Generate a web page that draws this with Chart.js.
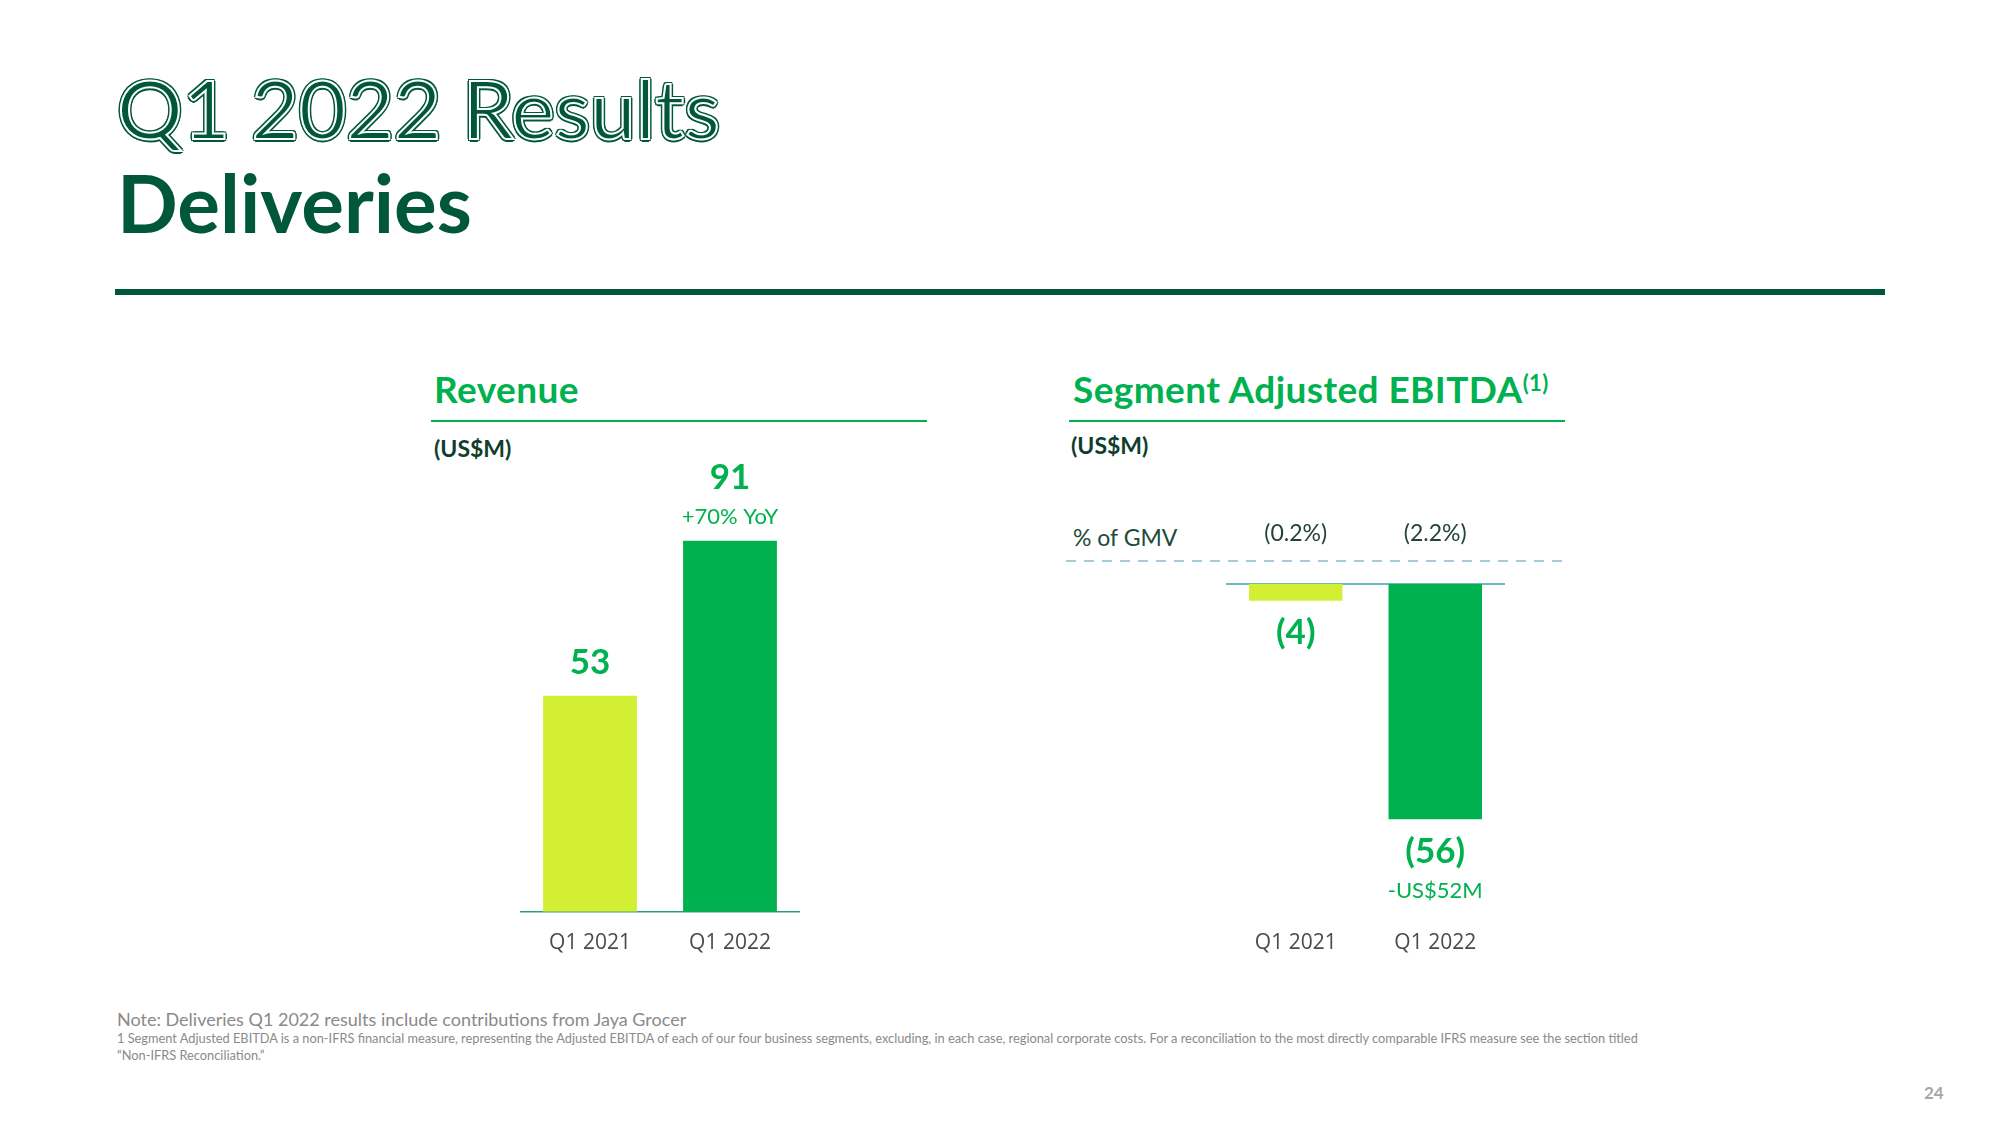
<!DOCTYPE html>
<html><head><meta charset="utf-8">
<script src="https://cdn.jsdelivr.net/npm/chart.js@4.4.1/dist/chart.umd.min.js"></script>
<style>
html,body{margin:0;padding:0;background:#fff;}
body{width:2000px;height:1125px;position:relative;overflow:hidden;font-family:Lato,"Noto Sans",sans-serif;}
.abs{position:absolute;white-space:nowrap;}
#t1{left:117px;top:66px;font-size:82px;line-height:82px;font-weight:400;color:#00573b;letter-spacing:0px;
 -webkit-text-stroke:2px #fff;
 text-shadow:2.5px 0 0 #00573b,-2.5px 0 0 #00573b,0 2.5px 0 #00573b,0 -2.5px 0 #00573b,1.8px 1.8px 0 #00573b,-1.8px 1.8px 0 #00573b,1.8px -1.8px 0 #00573b,-1.8px -1.8px 0 #00573b;}
#t2{left:117px;top:162px;font-size:80px;line-height:80px;font-weight:700;color:#00573b;}
#rule{left:115px;top:289px;width:1770px;height:6px;background:#00573b;}
.sec{font-size:37px;line-height:40px;font-weight:700;color:#00b14f;letter-spacing:0.4px;}
.sec sup{font-size:22px;vertical-align:top;position:relative;top:-6px;}
.uline{height:2px;background:#00b14f;}
.unit{font-size:23px;line-height:26px;font-weight:700;color:#0f3d2e;}
.gmv{font-size:23px;line-height:26px;color:#1d4b3a;}
#dash{left:1066px;top:560px;width:503px;height:2px;background:repeating-linear-gradient(to right,#a9cbd9 0 10px,transparent 10px 18px);}
.note1{font-size:18px;line-height:20px;color:#8a8a8a;}
.note2{font-size:12.8px;line-height:16px;color:#8a8a8a;}
#page{left:1924px;top:1083px;font-size:17px;line-height:20px;color:#a6a6a6;font-weight:700;}
canvas{position:absolute;}
</style></head>
<body>
<div class="abs" id="t1">Q1 2022 Results</div>
<div class="abs" id="t2">Deliveries</div>
<div class="abs" id="rule"></div>

<div class="abs sec" style="left:434px;top:369px;">Revenue</div>
<div class="abs uline" style="left:431px;top:420px;width:496px;"></div>
<div class="abs unit" style="left:434px;top:435px;">(US$M)</div>

<div class="abs sec" style="left:1073px;top:369px;">Segment Adjusted EBITDA<sup>(1)</sup></div>
<div class="abs uline" style="left:1069px;top:420px;width:496px;"></div>
<div class="abs unit" style="left:1071px;top:432px;">(US$M)</div>
<div class="abs gmv" style="left:1073px;top:524px;">% of GMV</div>
<div class="abs" id="dash"></div>

<canvas id="rev" width="280" height="525" style="left:520px;top:450px;"></canvas>
<canvas id="ebitda" width="279" height="525" style="left:1226px;top:450px;"></canvas>

<div class="abs note1" style="left:117px;top:1009px;">Note: Deliveries Q1 2022 results include contributions from Jaya Grocer</div>
<div class="abs note2" style="left:117px;top:1030px;">1 Segment Adjusted EBITDA is a non-IFRS financial measure, representing the Adjusted EBITDA of each of our four business segments, excluding, in each case, regional corporate costs. For a reconciliation to the most directly comparable IFRS measure see the section titled</div>
<div class="abs note2" style="left:117px;top:1047px;">“Non-IFRS Reconciliation.”</div>
<div class="abs" id="page">24</div>

<script>
const categories = ['Q1 2021', 'Q1 2022'];
const revenue = [53, 91];
const revenueNotes = ['', '+70% YoY'];
const ebitda = [-4, -56];
const ebitdaNotes = ['', '-US$52M'];
const gmvPct = ['(0.2%)', '(2.2%)'];
const barColors = ['#d3ef33', '#00b14f'];

const GREEN = '#00b14f';
const tickStyle = {color:'#4a4a4a', font:{family:'Open Sans', size:21}, padding:19};

const revLabels = {
  id:'revLabels',
  afterDatasetsDraw(chart){
    const ctx = chart.ctx;
    const meta = chart.getDatasetMeta(0);
    ctx.save();
    ctx.textAlign = 'center';
    ctx.textBaseline = 'middle';
    meta.data.forEach((el, i) => {
      const note = revenueNotes[i];
      ctx.fillStyle = GREEN;
      ctx.font = '700 35px Lato';
      ctx.fillText(String(revenue[i]), el.x, el.y - (note ? 63 : 33));
      if (note) {
        ctx.font = '400 22px Lato';
        ctx.fillText(note, el.x, el.y - 24);
      }
    });
    ctx.restore();
  }
};

const ebitdaLabels = {
  id:'ebitdaLabels',
  beforeDatasetsDraw(chart){
    const ctx = chart.ctx, a = chart.chartArea;
    const y0 = chart.scales.y.getPixelForValue(0);
    ctx.save();
    ctx.strokeStyle = '#3aa6a0';
    ctx.lineWidth = 1.5;
    ctx.beginPath();
    ctx.moveTo(a.left, y0);
    ctx.lineTo(a.right, y0);
    ctx.stroke();
    ctx.restore();
  },
  afterDatasetsDraw(chart){
    const ctx = chart.ctx, a = chart.chartArea;
    const meta = chart.getDatasetMeta(0);
    ctx.save();
    ctx.textAlign = 'center';
    ctx.textBaseline = 'middle';
    meta.data.forEach((el, i) => {
      ctx.fillStyle = '#24423a';
      ctx.font = '400 23px Lato';
      ctx.fillText(gmvPct[i], el.x, a.top - 50);
      ctx.fillStyle = GREEN;
      ctx.font = '700 35px Lato';
      ctx.fillText('(' + Math.abs(ebitda[i]) + ')', el.x, el.y + 32);
      if (ebitdaNotes[i]) {
        ctx.font = '400 22px Lato';
        ctx.fillText(ebitdaNotes[i], el.x, el.y + 72);
      }
    });
    ctx.restore();
  }
};

const common = (padTop) => ({
  responsive:false,
  animation:false,
  layout:{padding:{top:padTop, left:0, right:0, bottom:0}},
  plugins:{legend:{display:false}, tooltip:{enabled:false}},
});

new Chart(document.getElementById('rev'), {
  type:'bar',
  data:{labels:categories, datasets:[{data:revenue, backgroundColor:barColors, borderWidth:0, barPercentage:0.67, categoryPercentage:1}]},
  options:Object.assign(common(54), {
    scales:{
      x:{grid:{display:false, drawTicks:false}, border:{display:true, color:'#2a9d7c', width:1.5}, ticks:tickStyle},
      y:{display:false, min:0, max:100}
    }
  }),
  plugins:[revLabels]
});

new Chart(document.getElementById('ebitda'), {
  type:'bar',
  data:{labels:categories, datasets:[{data:ebitda, backgroundColor:barColors, borderWidth:0, barPercentage:0.67, categoryPercentage:1}]},
  options:Object.assign(common(134), {
    scales:{
      x:{grid:{display:false, drawTicks:false}, border:{display:false}, ticks:tickStyle},
      y:{display:false, min:-78, max:0}
    }
  }),
  plugins:[ebitdaLabels]
});
</script>
</body></html>
